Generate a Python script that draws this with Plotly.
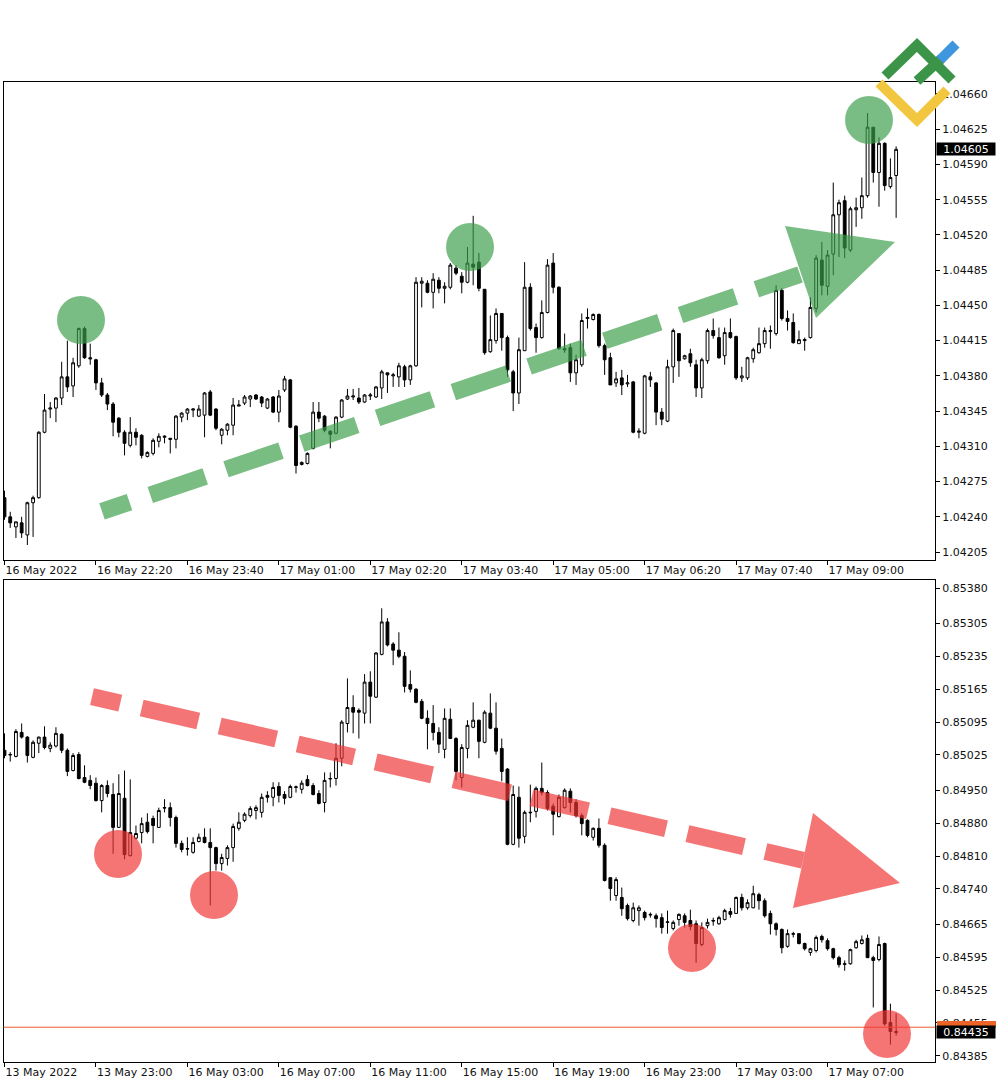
import plotly.graph_objects as go

# ---------------- DATA ----------------
# Top panel: EURUSD-like, 5-minute candles (16 May 21:00 -> 17 May)
top_open = [
1.04259,1.04240,1.04230,1.04234,1.04222,1.04254,1.04259,1.04324,1.04347,1.04348,
1.04358,1.04379,1.04370,1.04390,1.04427,1.04398,1.04396,1.04373,1.04361,1.04352,
1.04338,1.04324,1.04311,1.04324,1.04321,1.04300,1.04303,1.04315,1.04319,1.04318,
1.04317,1.04339,1.04343,1.04346,1.04340,1.04341,1.04364,1.04347,1.04321,1.04326,
1.04331,1.04350,1.04353,1.04357,1.04361,1.04359,1.04348,1.04359,1.04344,1.04366,
1.04376,1.04330,1.04292,1.04293,1.04308,1.04344,1.04340,1.04325,1.04323,1.04339,
1.04357,1.04359,1.04358,1.04354,1.04360,1.04359,1.04368,1.04383,1.04380,1.04379,
1.04389,1.04376,1.04390,1.04472,1.04472,1.04463,1.04475,1.04467,1.04468,1.04487,
1.04479,1.04473,1.04491,1.04493,1.04466,1.04404,1.04415,1.04442,1.04418,1.04384,
1.04363,1.04405,1.04468,1.04428,1.04418,1.04443,1.04492,1.04468,1.04407,1.04408,
1.04383,1.04391,1.04437,1.04436,1.04441,1.04410,1.04398,1.04373,1.04378,1.04372,
1.04374,1.04324,1.04323,1.04379,1.04373,1.04344,1.04335,1.04389,1.04422,1.04397,
1.04402,1.04391,1.04368,1.04395,1.04425,1.04418,1.04400,1.04423,1.04419,1.04378,
1.04378,1.04397,1.04403,1.04412,1.04424,1.04422,1.04465,1.04437,1.04433,1.04412,
1.04415,1.04418,1.04447,1.04495,1.04469,1.04501,1.04540,1.04554,1.04505,1.04545,
1.04547,1.04559,1.04627,1.04582,1.04611,1.04568,1.04579]
top_high = [
1.04266,1.04245,1.04235,1.04240,1.04255,1.04261,1.04325,1.04362,1.04354,1.04359,
1.04394,1.04415,1.04398,1.04428,1.04429,1.04412,1.04397,1.04378,1.04363,1.04354,
1.04339,1.04326,1.04339,1.04328,1.04322,1.04305,1.04318,1.04323,1.04321,1.04318,
1.04341,1.04344,1.04348,1.04348,1.04351,1.04364,1.04366,1.04348,1.04328,1.04333,
1.04358,1.04356,1.04361,1.04361,1.04362,1.04360,1.04358,1.04360,1.04366,1.04380,
1.04377,1.04331,1.04295,1.04304,1.04354,1.04354,1.04341,1.04326,1.04340,1.04357,
1.04367,1.04367,1.04368,1.04362,1.04363,1.04370,1.04386,1.04383,1.04383,1.04393,
1.04391,1.04391,1.04478,1.04478,1.04475,1.04482,1.04478,1.04473,1.04492,1.04490,
1.04483,1.04508,1.04539,1.04502,1.04466,1.04440,1.04447,1.04442,1.04420,1.04386,
1.04418,1.04493,1.04472,1.04432,1.04455,1.04496,1.04502,1.04469,1.04422,1.04412,
1.04401,1.04442,1.04447,1.04442,1.04442,1.04412,1.04403,1.04384,1.04386,1.04381,
1.04375,1.04328,1.04381,1.04384,1.04374,1.04348,1.04396,1.04427,1.04422,1.04401,
1.04407,1.04396,1.04398,1.04427,1.04437,1.04428,1.04428,1.04437,1.04420,1.04389,
1.04399,1.04408,1.04428,1.04428,1.04430,1.04470,1.04467,1.04445,1.04442,1.04425,
1.04418,1.04458,1.04500,1.04513,1.04505,1.04572,1.04555,1.04559,1.04548,1.04557,
1.04577,1.04641,1.04627,1.04617,1.04612,1.04596,1.04608]
top_low = [
1.04237,1.04229,1.04219,1.04219,1.04212,1.04220,1.04258,1.04323,1.04338,1.04334,
1.04351,1.04364,1.04359,1.04388,1.04397,1.04391,1.04366,1.04359,1.04346,1.04320,
1.04319,1.04301,1.04309,1.04311,1.04298,1.04299,1.04301,1.04309,1.04313,1.04303,
1.04308,1.04334,1.04336,1.04339,1.04339,1.04319,1.04340,1.04326,1.04312,1.04321,
1.04321,1.04350,1.04351,1.04349,1.04356,1.04349,1.04347,1.04343,1.04334,1.04364,
1.04328,1.04283,1.04291,1.04292,1.04307,1.04334,1.04324,1.04308,1.04322,1.04338,
1.04356,1.04356,1.04352,1.04353,1.04356,1.04358,1.04357,1.04363,1.04369,1.04369,
1.04369,1.04371,1.04389,1.04448,1.04462,1.04447,1.04462,1.04452,1.04466,1.04480,
1.04462,1.04472,1.04470,1.04464,1.04401,1.04403,1.04412,1.04405,1.04379,1.04345,
1.04352,1.04405,1.04425,1.04403,1.04417,1.04442,1.04462,1.04406,1.04403,1.04374,
1.04371,1.04389,1.04427,1.04435,1.04408,1.04381,1.04371,1.04369,1.04361,1.04369,
1.04323,1.04318,1.04322,1.04369,1.04331,1.04331,1.04334,1.04373,1.04379,1.04396,
1.04389,1.04359,1.04358,1.04392,1.04417,1.04397,1.04391,1.04417,1.04376,1.04374,
1.04376,1.04393,1.04402,1.04408,1.04407,1.04420,1.04435,1.04425,1.04412,1.04412,
1.04405,1.04417,1.04443,1.04460,1.04460,1.04480,1.04498,1.04497,1.04503,1.04528,
1.04536,1.04557,1.04572,1.04548,1.04564,1.04566,1.04537]
top_close = [
1.04240,1.04234,1.04235,1.04224,1.04254,1.04259,1.04324,1.04346,1.04348,1.04358,
1.04379,1.04369,1.04393,1.04427,1.04398,1.04397,1.04373,1.04361,1.04352,1.04334,
1.04324,1.04313,1.04324,1.04319,1.04301,1.04304,1.04316,1.04320,1.04320,1.04317,
1.04340,1.04343,1.04347,1.04347,1.04347,1.04363,1.04341,1.04328,1.04327,1.04332,
1.04351,1.04351,1.04359,1.04360,1.04357,1.04353,1.04357,1.04344,1.04360,1.04377,
1.04329,1.04291,1.04294,1.04303,1.04344,1.04338,1.04326,1.04322,1.04339,1.04356,
1.04360,1.04360,1.04354,1.04361,1.04361,1.04369,1.04384,1.04381,1.04381,1.04390,
1.04376,1.04390,1.04473,1.04474,1.04463,1.04476,1.04467,1.04469,1.04490,1.04482,
1.04473,1.04492,1.04488,1.04467,1.04403,1.04416,1.04442,1.04418,1.04386,1.04363,
1.04406,1.04468,1.04427,1.04418,1.04443,1.04490,1.04468,1.04407,1.04406,1.04383,
1.04396,1.04435,1.04438,1.04441,1.04410,1.04396,1.04371,1.04377,1.04371,1.04373,
1.04324,1.04325,1.04380,1.04376,1.04344,1.04337,1.04389,1.04425,1.04395,1.04400,
1.04393,1.04368,1.04396,1.04425,1.04420,1.04398,1.04423,1.04418,1.04378,1.04380,
1.04398,1.04406,1.04412,1.04425,1.04425,1.04465,1.04437,1.04434,1.04413,1.04416,
1.04416,1.04448,1.04497,1.04470,1.04500,1.04540,1.04552,1.04507,1.04546,1.04547,
1.04559,1.04627,1.04582,1.04611,1.04569,1.04577,1.04605]

# Bottom panel: EURGBP-like, 15-minute candles (13 May -> 17 May)
bot_open = [
0.85035,0.85025,0.85022,0.85073,0.85063,0.85020,0.85050,0.85063,0.85039,0.85044,
0.85069,0.85035,0.84992,0.85026,0.84977,0.84971,0.84965,0.84928,0.84960,0.84941,
0.84871,0.84933,0.84811,0.84848,0.84860,0.84882,0.84890,0.84871,0.84912,0.84913,
0.84892,0.84837,0.84826,0.84818,0.84841,0.84850,0.84839,0.84828,0.84794,0.84805,
0.84828,0.84869,0.84886,0.84896,0.84907,0.84903,0.84939,0.84935,0.84958,0.84941,
0.84935,0.84956,0.84952,0.84973,0.84960,0.84943,0.84924,0.84974,0.84975,0.85018,
0.85092,0.85126,0.85120,0.85114,0.85180,0.85148,0.85239,0.85308,0.85261,0.85248,
0.85235,0.85175,0.85165,0.85139,0.85103,0.85092,0.85073,0.85037,0.85101,0.85060,
0.84977,0.85039,0.85084,0.85099,0.85052,0.85114,0.85082,0.85039,0.84995,0.84835,
0.84935,0.84852,0.84902,0.84905,0.84954,0.84945,0.84916,0.84894,0.84913,0.84948,
0.84924,0.84896,0.84886,0.84850,0.84869,0.84833,0.84764,0.84726,0.84722,0.84705,
0.84673,0.84694,0.84690,0.84686,0.84683,0.84679,0.84669,0.84656,0.84675,0.84683,
0.84673,0.84666,0.84622,0.84662,0.84673,0.84666,0.84675,0.84692,0.84688,0.84722,
0.84700,0.84700,0.84728,0.84715,0.84688,0.84666,0.84654,0.84618,0.84645,0.84645,
0.84624,0.84605,0.84609,0.84639,0.84630,0.84613,0.84594,0.84581,0.84581,0.84615,
0.84624,0.84635,0.84594,0.84590,0.84624,0.84456,0.84437]
bot_high = [
0.85071,0.85031,0.85080,0.85092,0.85065,0.85056,0.85064,0.85086,0.85052,0.85084,
0.85071,0.85039,0.85029,0.85031,0.85003,0.84982,0.84977,0.84963,0.84971,0.84965,
0.84984,0.84992,0.84973,0.84875,0.84892,0.84901,0.84896,0.84913,0.84931,0.84924,
0.84896,0.84843,0.84850,0.84850,0.84858,0.84869,0.84869,0.84830,0.84815,0.84833,
0.84879,0.84903,0.84903,0.84916,0.84918,0.84943,0.84948,0.84967,0.84967,0.84948,
0.84962,0.84960,0.84971,0.84982,0.84965,0.84950,0.84988,0.84988,0.85050,0.85099,
0.85188,0.85152,0.85124,0.85197,0.85203,0.85244,0.85337,0.85316,0.85265,0.85286,
0.85244,0.85205,0.85167,0.85144,0.85120,0.85131,0.85084,0.85124,0.85124,0.85063,
0.85048,0.85099,0.85137,0.85100,0.85120,0.85156,0.85137,0.85060,0.84997,0.84960,
0.84958,0.84907,0.84962,0.84958,0.85009,0.84950,0.84922,0.84941,0.84954,0.84954,
0.84931,0.84901,0.84888,0.84871,0.84890,0.84837,0.84765,0.84765,0.84743,0.84709,
0.84711,0.84705,0.84694,0.84690,0.84688,0.84688,0.84694,0.84673,0.84688,0.84688,
0.84696,0.84673,0.84669,0.84677,0.84679,0.84683,0.84698,0.84700,0.84724,0.84730,
0.84718,0.84747,0.84732,0.84720,0.84694,0.84669,0.84656,0.84654,0.84649,0.84646,
0.84626,0.84615,0.84641,0.84643,0.84635,0.84615,0.84598,0.84588,0.84613,0.84632,
0.84641,0.84643,0.84598,0.84639,0.84626,0.84496,0.84475]
bot_low = [
0.85018,0.85011,0.85020,0.85060,0.85009,0.85018,0.85029,0.85037,0.85031,0.85041,
0.85029,0.84980,0.84990,0.84973,0.84965,0.84952,0.84926,0.84903,0.84935,0.84815,
0.84870,0.84803,0.84809,0.84845,0.84837,0.84858,0.84837,0.84870,0.84903,0.84873,
0.84828,0.84818,0.84811,0.84815,0.84839,0.84837,0.84705,0.84779,0.84779,0.84790,
0.84798,0.84864,0.84882,0.84892,0.84888,0.84892,0.84924,0.84916,0.84924,0.84920,
0.84933,0.84945,0.84943,0.84958,0.84939,0.84920,0.84903,0.84956,0.84960,0.85001,
0.85073,0.85071,0.85060,0.85092,0.85092,0.85146,0.85237,0.85256,0.85216,0.85231,
0.85158,0.85158,0.85135,0.85101,0.85037,0.85056,0.85029,0.85018,0.85059,0.84971,
0.84956,0.85018,0.85082,0.85018,0.85050,0.85080,0.85026,0.84969,0.84833,0.84833,
0.84828,0.84837,0.84882,0.84892,0.84939,0.84907,0.84854,0.84892,0.84911,0.84903,
0.84892,0.84854,0.84850,0.84843,0.84828,0.84756,0.84715,0.84715,0.84683,0.84673,
0.84669,0.84662,0.84673,0.84679,0.84658,0.84645,0.84645,0.84652,0.84662,0.84658,
0.84652,0.84583,0.84618,0.84656,0.84662,0.84664,0.84673,0.84679,0.84687,0.84694,
0.84696,0.84699,0.84696,0.84679,0.84643,0.84641,0.84603,0.84615,0.84637,0.84622,
0.84609,0.84598,0.84605,0.84626,0.84609,0.84590,0.84573,0.84566,0.84579,0.84613,
0.84622,0.84593,0.84488,0.84586,0.84449,0.84409,0.84428]
bot_close = [
0.85024,0.85026,0.85075,0.85063,0.85024,0.85052,0.85063,0.85041,0.85046,0.85071,
0.85035,0.84990,0.85024,0.84975,0.84967,0.84960,0.84928,0.84960,0.84943,0.84871,
0.84943,0.84813,0.84860,0.84858,0.84879,0.84862,0.84875,0.84907,0.84913,0.84892,
0.84837,0.84824,0.84825,0.84839,0.84850,0.84839,0.84828,0.84794,0.84807,0.84828,
0.84873,0.84882,0.84899,0.84911,0.84913,0.84935,0.84935,0.84956,0.84939,0.84933,
0.84958,0.84957,0.84965,0.84960,0.84941,0.84922,0.84971,0.84975,0.85018,0.85095,
0.85126,0.85116,0.85116,0.85180,0.85150,0.85242,0.85308,0.85259,0.85248,0.85235,
0.85171,0.85165,0.85137,0.85103,0.85092,0.85073,0.85048,0.85103,0.85060,0.84990,
0.85041,0.85088,0.85099,0.85054,0.85116,0.85082,0.85033,0.84990,0.84835,0.84941,
0.84848,0.84903,0.84903,0.84954,0.84945,0.84911,0.84899,0.84935,0.84950,0.84924,
0.84896,0.84879,0.84854,0.84869,0.84833,0.84758,0.84741,0.84760,0.84698,0.84677,
0.84700,0.84700,0.84679,0.84685,0.84677,0.84658,0.84670,0.84669,0.84686,0.84669,
0.84660,0.84624,0.84658,0.84669,0.84672,0.84679,0.84694,0.84686,0.84722,0.84700,
0.84711,0.84730,0.84715,0.84683,0.84666,0.84654,0.84615,0.84645,0.84644,0.84624,
0.84613,0.84613,0.84637,0.84632,0.84613,0.84594,0.84579,0.84580,0.84611,0.84628,
0.84632,0.84594,0.84588,0.84622,0.84453,0.84437,0.84435]

top_tick_idx = [0, 16, 32, 48, 64, 80, 96, 112, 128, 144]
top_tick_text = ["16 May 2022", "16 May 22:20", "16 May 23:40", "17 May 01:00", "17 May 02:20",
                 "17 May 03:40", "17 May 05:00", "17 May 06:20", "17 May 07:40", "17 May 09:00"]
bot_tick_idx = [0, 16, 32, 48, 64, 80, 96, 112, 128, 144]
bot_tick_text = ["13 May 2022", "13 May 23:00", "16 May 03:00", "16 May 07:00", "16 May 11:00",
                 "16 May 15:00", "16 May 19:00", "16 May 23:00", "17 May 03:00", "17 May 07:00"]
top_price_ticks = [1.04660, 1.04625, 1.04590, 1.04555, 1.04520, 1.04485, 1.04450,
                   1.04415, 1.04380, 1.04345, 1.04310, 1.04275, 1.04240, 1.04205]
bot_price_ticks = [0.85380, 0.85305, 0.85235, 0.85165, 0.85095, 0.85025, 0.84950,
                   0.84880, 0.84810, 0.84740, 0.84665, 0.84595, 0.84525, 0.84455, 0.84385]
top_last_price = 1.04605
bot_last_price = 0.84435
bot_line_level = 0.84446

# ---------------- FIGURE ----------------
W, H = 1000, 1080
FONT = "DejaVu Sans"


def px(x):
    return x / W


def py(y):
    return 1 - y / H


idx_top = list(range(len(top_open)))
idx_bot = list(range(len(bot_open)))

candle_style = dict(
    increasing=dict(fillcolor="white", line=dict(color="black", width=1)),
    decreasing=dict(fillcolor="black", line=dict(color="black", width=1)),
    whiskerwidth=0, hoverinfo="skip", showlegend=False,
)

fig = go.Figure()
fig.add_trace(go.Candlestick(x=idx_top, open=top_open, high=top_high, low=top_low,
                             close=top_close, xaxis="x", yaxis="y", **candle_style))
fig.add_trace(go.Candlestick(x=idx_bot, open=bot_open, high=bot_high, low=bot_low,
                             close=bot_close, xaxis="x2", yaxis="y2", **candle_style))

XDOM = [3.5 / W, 935 / W]
XRANGE = [-0.175, 162.8]
tickfont = dict(family=FONT, size=11, color="#111111")

xcommon = dict(domain=XDOM, range=XRANGE, showgrid=False, zeroline=False,
               showline=True, linecolor="black", linewidth=1, mirror=True,
               ticks="outside", ticklen=4, tickcolor="black",
               ticklabelposition="outside right", tickfont=tickfont,
               rangeslider=dict(visible=False), fixedrange=True)
ycommon = dict(side="right", showgrid=False, zeroline=False, showline=True,
               linecolor="black", linewidth=1, mirror=True, ticks="outside",
               ticklen=4, tickcolor="black", tickfont=tickfont, fixedrange=True)

fig.update_layout(
    width=W, height=H, autosize=False,
    margin=dict(l=0, r=0, t=0, b=0),
    paper_bgcolor="white", plot_bgcolor="white",
    hovermode=False, showlegend=False,
    boxgap=0.3,
    xaxis=dict(anchor="y", tickvals=top_tick_idx, ticktext=top_tick_text, **xcommon),
    yaxis=dict(anchor="x", domain=[py(560), py(82)], range=[1.041971, 1.046719],
               tickvals=top_price_ticks, ticktext=[f"{v:.5f}" for v in top_price_ticks], **ycommon),
    xaxis2=dict(anchor="y2", tickvals=bot_tick_idx, ticktext=bot_tick_text, **xcommon),
    yaxis2=dict(anchor="x2", domain=[py(1062), py(580)], range=[0.843720, 0.853972],
                tickvals=bot_price_ticks, ticktext=[f"{v:.5f}" for v in bot_price_ticks], **ycommon),
)

shapes = []

# current-price line (bottom panel)
shapes.append(dict(type="line", xref="paper", yref="y2", x0=XDOM[0], x1=XDOM[1],
                   y0=bot_line_level, y1=bot_line_level,
                   line=dict(color="rgb(232,92,48)", width=1), layer="above"))

GREEN = "rgb(58,158,74)"
RED = "rgb(240,52,52)"
ALPHA = 0.68


def circle(cx, cy, r, color):
    return dict(type="circle", xref="paper", yref="paper",
                x0=px(cx - r), x1=px(cx + r), y0=py(cy + r), y1=py(cy - r),
                fillcolor=color, opacity=ALPHA, line=dict(width=0), layer="above")


def tri(pts, color):
    path = "M " + " L ".join(f"{px(a):.5f},{py(b):.5f}" for a, b in pts) + " Z"
    return dict(type="path", xref="paper", yref="paper", path=path,
                fillcolor=color, opacity=ALPHA, line=dict(width=0), layer="above")


DASH = "29px,22px," + ",".join(["58px,22px"] * 14)


def dline(p0, p1, color):
    return dict(type="line", xref="paper", yref="paper",
                x0=px(p0[0]), y0=py(p0[1]), x1=px(p1[0]), y1=py(p1[1]),
                line=dict(color=color, width=17, dash=DASH), opacity=ALPHA, layer="above")


# green (uptrend) marks
for c in [(81, 320), (470, 247), (869, 120)]:
    shapes.append(circle(c[0], c[1], 24, GREEN))
shapes.append(dline((102, 511.4), (800, 274.5), GREEN))
shapes.append(tri([(785, 226), (895, 242), (816, 318)], GREEN))

# red (downtrend) marks
for c in [(118, 854), (214, 895), (692, 948), (887, 1034)]:
    shapes.append(circle(c[0], c[1], 24, RED))
shapes.append(dline((92, 696.6), (803, 860.2), RED))
shapes.append(tri([(813, 813), (900, 883), (793, 908)], RED))

# orange ask-price box behind the bottom price labels
shapes.append(dict(type="rect", xref="paper", yref="paper", x0=px(937), x1=px(996),
                   y0=py(1028), y1=py(1021), fillcolor="rgb(236,100,40)",
                   line=dict(width=0), layer="above"))


# logo (top right)
def stroke(pts, color, w=10):
    path = "M " + " L ".join(f"{px(a):.5f},{py(b):.5f}" for a, b in pts)
    return dict(type="path", xref="paper", yref="paper", path=path,
                line=dict(color=color, width=w), layer="above")


shapes.append(stroke([(879, 83), (917, 120), (947, 90)], "rgb(242,198,62)"))
shapes.append(stroke([(885, 76), (917, 45), (952, 80)], "rgb(60,148,72)"))
shapes.append(stroke([(917, 81), (941, 59)], "rgb(60,148,72)"))
shapes.append(stroke([(940, 60), (956, 44)], "rgb(62,150,222)"))

fig.update_layout(shapes=shapes)

annots = [
    dict(xref="paper", yref="y", x=px(936), y=top_last_price, xanchor="left", yanchor="middle",
         text=f"{top_last_price:.5f}", showarrow=False, width=58, height=12, align="center",
         font=dict(family=FONT, size=11, color="white"), bgcolor="black", borderpad=0),
    dict(xref="paper", yref="y2", x=px(936), y=bot_last_price, xanchor="left", yanchor="middle",
         text=f"{bot_last_price:.5f}", showarrow=False, width=58, height=12, align="center",
         font=dict(family=FONT, size=11, color="white"), bgcolor="black", borderpad=0),
]
fig.update_layout(annotations=annots)

fig.write_html("out.html", config={"displayModeBar": False},
               post_script="document.body.style.margin='0px';")
